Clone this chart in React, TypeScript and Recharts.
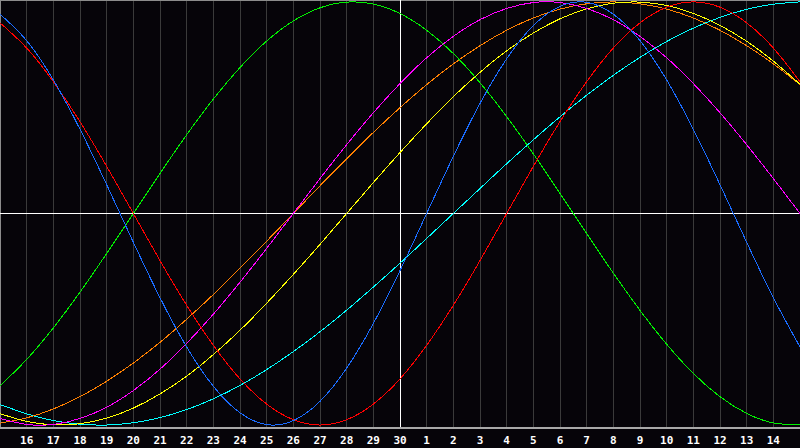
import { LineChart, Line, XAxis, YAxis, CartesianGrid, ReferenceLine } from 'recharts';

// day of month for each column (index 0 = left edge, 30 = right edge)
const dayLabels = [15, 16, 17, 18, 19, 20, 21, 22, 23, 24, 25, 26, 27, 28, 29, 30, 1, 2, 3, 4, 5, 6, 7, 8, 9, 10, 11, 12, 13, 14, 15];

// values, in percent (-100..100)
const physical = [94.2, 81.7, 63.1, 39.8, 13.6, -13.6, -39.8, -63.1, -81.7, -94.2, -99.8, -97.9, -88.8, -73.1, -52.0, -27.0, 0, 27.0, 52.0, 73.1, 88.8, 97.9, 99.8, 94.2, 81.7, 63.1, 39.8, 13.6, -13.6, -39.8, -63.1];
const emotional = [90.1, 78.2, 62.3, 43.4, 22.3, 0, -22.3, -43.4, -62.3, -78.2, -90.1, -97.5, -100, -97.5, -90.1, -78.2, -62.3, -43.4, -22.3, 0, 22.3, 43.4, 62.3, 78.2, 90.1, 97.5, 100, 97.5, 90.1, 78.2, 62.3];
const intellectual = [-81.5, -69.0, -54.1, -37.2, -18.9, 0, 18.9, 37.2, 54.1, 69.0, 81.5, 91.0, 97.2, 99.9, 99.0, 94.5, 86.6, 75.6, 61.8, 45.8, 28.2, 9.5, -9.5, -28.2, -45.8, -61.8, -75.6, -86.6, -94.5, -99.0, -99.9];
const intuitive = [-96.9, -99.7, -99.7, -96.9, -91.6, -83.7, -73.6, -61.4, -47.6, -32.5, -16.5, 0, 16.5, 32.5, 47.6, 61.4, 73.6, 83.7, 91.6, 96.9, 99.7, 99.7, 96.9, 91.6, 83.7, 73.6, 61.4, 47.6, 32.5, 16.5, 0];
const aesthetic = [-94.6, -98.3, -99.9, -99.4, -96.7, -92.0, -85.3, -76.9, -66.7, -55.2, -42.4, -28.8, -14.6, 0, 14.6, 28.8, 42.4, 55.2, 66.7, 76.9, 85.3, 92.0, 96.7, 99.4, 99.9, 98.3, 94.6, 88.9, 81.4, 72.0, 61.1];
const awareness = [-99.1, -96.6, -92.4, -86.6, -79.3, -70.7, -60.9, -50.0, -38.3, -25.9, -13.1, 0, 13.1, 25.9, 38.3, 50.0, 60.9, 70.7, 79.3, 86.6, 92.4, 96.6, 99.1, 100, 99.1, 96.6, 92.4, 86.6, 79.3, 70.7, 60.9];
const spiritual = [-90.3, -94.7, -97.9, -99.6, -100.0, -98.9, -96.5, -92.7, -87.6, -81.3, -73.8, -65.3, -55.9, -45.7, -34.8, -23.5, -11.8, 0, 11.8, 23.5, 34.8, 45.7, 55.9, 65.3, 73.8, 81.3, 87.6, 92.7, 96.5, 98.9, 100.0];

const todayIndex = 15;
const tickIndexes = dayLabels.map((_, i) => i).filter((i) => i > 0 && i < dayLabels.length - 1);

const data = dayLabels.map((day, i) => ({
    i,
    day,
    physical: physical[i],
    emotional: emotional[i],
    intellectual: intellectual[i],
    intuitive: intuitive[i],
    aesthetic: aesthetic[i],
    awareness: awareness[i],
    spiritual: spiritual[i],
}));

const Y_TOP = 100.9;
const Y_BOTTOM = -101.4;

const series = [
    { key: 'spiritual', color: '#00ffff' },
    { key: 'awareness', color: '#ff8000' },
    { key: 'aesthetic', color: '#ffff00' },
    { key: 'intuitive', color: '#ff00ff' },
    { key: 'intellectual', color: '#00f000' },
    { key: 'emotional', color: '#ff0000' },
    { key: 'physical', color: '#1a6cff' },
];

export default function App() {
    return (
        <div style={{ position: 'absolute', left: 0, top: 0, width: 800, height: 448, background: '#060409' }}>
            <LineChart width={800} height={448} data={data} margin={{ top: 0, right: 0, left: 0, bottom: 0 }}>
                <CartesianGrid horizontal={false} stroke="#3a3a3a" shapeRendering="crispEdges" />
                <XAxis
                    dataKey="i"
                    type="number"
                    domain={[0, 30]}
                    ticks={tickIndexes}
                    interval={0}
                    tickFormatter={(v) => String(dayLabels[v])}
                    tickLine={false}
                    axisLine={{ stroke: '#a8a8a8', strokeWidth: 2 }}
                    height={20}
                    tick={{ fill: '#ffffff', fontSize: 11, fontWeight: 'bold', fontFamily: '"DejaVu Sans Mono", monospace' }}
                />
                <YAxis hide domain={[Y_BOTTOM, Y_TOP]} allowDataOverflow />
                <ReferenceLine x={0} stroke="#8c8c8c" strokeWidth={2} />
                <ReferenceLine y={Y_TOP} stroke="#8c8c8c" strokeWidth={2} />
                <ReferenceLine y={0} stroke="#ffffff" shapeRendering="crispEdges" />
                <ReferenceLine x={todayIndex} stroke="#ffffff" shapeRendering="crispEdges" />
                {series.map((s) => (
                    <Line
                        key={s.key}
                        type="natural"
                        dataKey={s.key}
                        stroke={s.color}
                        strokeWidth={1}
                        shapeRendering="crispEdges"
                        dot={false}
                        activeDot={false}
                        isAnimationActive={false}
                    />
                ))}
            </LineChart>
        </div>
    );
}
